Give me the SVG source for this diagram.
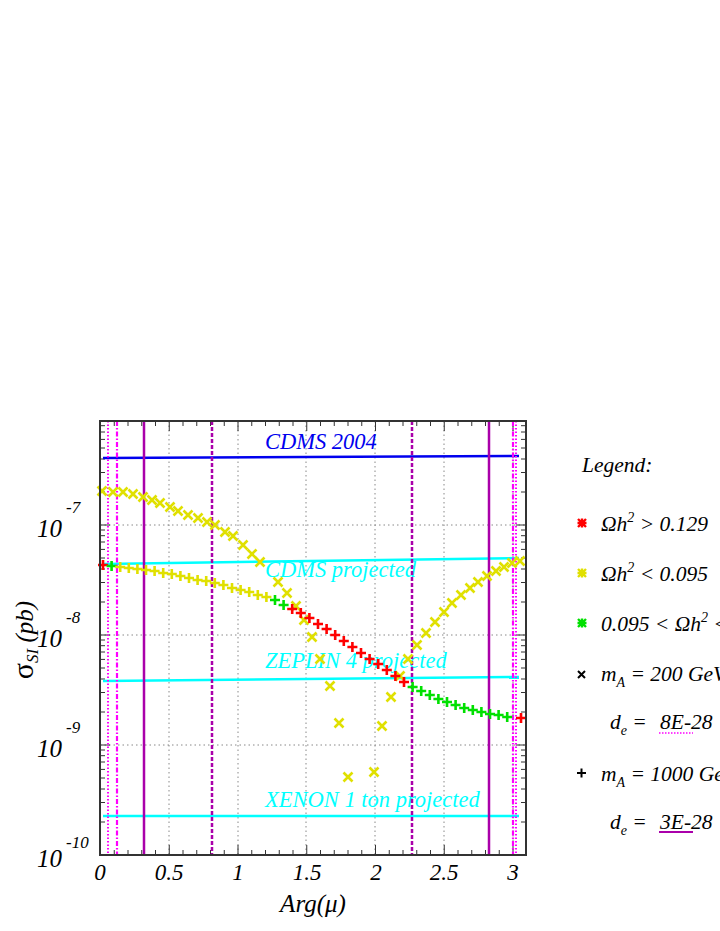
<svg xmlns="http://www.w3.org/2000/svg" xmlns:xlink="http://www.w3.org/1999/xlink" width="720" height="931" viewBox="0 0 720 931">
<style>
.t{font-family:"Liberation Serif",serif;font-style:italic;font-size:22.5px}
.lg{font-family:"Liberation Serif",serif;font-style:italic;font-size:21.5px;fill:#000}
.grid{stroke:#888;stroke-width:1;stroke-dasharray:1.5 3;fill:none}
.tick{stroke:#333;stroke-width:1;fill:none}
.xm{stroke:#e0e000;stroke-width:2.6}
</style>
<defs>
<g id="xm"><path d="M-4.5-4.5L4.5 4.5M-4.5 4.5L4.5-4.5" class="xm"/></g>
<g id="pr"><path d="M-5 0H5M0-5V5" stroke="#ff0000" stroke-width="2.6"/></g>
<g id="pg"><path d="M-5 0H5M0-5V5" stroke="#00e000" stroke-width="2.6"/></g>
<g id="py"><path d="M-5 0H5M0-5V5" stroke="#e0e000" stroke-width="2.6"/></g>
<g id="star"><path d="M-4-4L4 4M-4 4L4-4M-4.5 0H4.5M0-4.5V4.5" stroke-width="2.4"/></g>
</defs>
<rect width="720" height="931" fill="#fff"/>
<g id="plot">
<path class="grid" d="M169 421V855M238 421V855M306 421V855M375 421V855M444 421V855M513 421V855M100 745H526M100 635H526M100 525H526"/>
<path id="lt" class="tick" d="M100 855h10M100 822h5M100 802.5h5M100 789h5M100 778h5M100 769.4h5M100 762h5M100 755.7h5M100 750h5M100 745h10M100 712h5M100 692.5h5M100 679h5M100 668h5M100 659.4h5M100 652h5M100 645.7h5M100 640h5M100 635h10M100 602h5M100 582.5h5M100 569h5M100 558h5M100 549.4h5M100 542h5M100 535.7h5M100 530h5M100 525h10M100 492h5M100 472.5h5M100 459h5M100 448h5M100 439.4h5M100 432h5M100 425.7h5"/>
<use xlink:href="#lt" transform="translate(626,0) scale(-1,1)"/>
<path id="bt" class="tick" d="M100.5 855v-10M114.25 855v-5M128 855v-5M141.75 855v-5M155.5 855v-5M169.25 855v-10M183 855v-5M196.75 855v-5M210.5 855v-5M224.25 855v-5M238 855v-10M251.75 855v-5M265.5 855v-5M279.25 855v-5M293 855v-5M306.75 855v-10M320.5 855v-5M334.25 855v-5M348 855v-5M361.75 855v-5M375.5 855v-10M389.25 855v-5M403 855v-5M416.75 855v-5M430.5 855v-5M444.25 855v-10M458 855v-5M471.75 855v-5M485.5 855v-5M499.25 855v-5M513 855v-10"/>
<use xlink:href="#bt" transform="translate(0,1276) scale(1,-1)"/>
</g>
<g id="limits">
<path d="M103 458L519 456" stroke="#0000ee" stroke-width="2.5" fill="none"/>
<path d="M103 564L519 558" stroke="#00ffff" stroke-width="2.5" fill="none"/>
<path d="M103 681L519 677" stroke="#00ffff" stroke-width="2.5" fill="none"/>
<path d="M103 816L519 816" stroke="#00ffff" stroke-width="2.5" fill="none"/>
<text class="t" x="265" y="449" fill="#0000ee">CDMS 2004</text>
<text class="t" x="265" y="577" fill="#00ffff">CDMS projected</text>
<text class="t" x="265" y="668" fill="#00ffff">ZEPLIN 4 projected</text>
<text class="t" x="265" y="807" fill="#00ffff">XENON 1 ton projected</text>
</g>
<g id="vlines" fill="none">
<path d="M108 421V855M516 421V855" stroke="#ff00ff" stroke-width="2" stroke-dasharray="1.5 2"/>
<path d="M117 421V855M513 421V855" stroke="#ff00ff" stroke-width="2.2" stroke-dasharray="5 2 1.5 2"/>
<path d="M144 421V855M489 421V855" stroke="#aa00aa" stroke-width="2.5"/>
<path d="M212 421V855M412 421V855" stroke="#aa00aa" stroke-width="2.5" stroke-dasharray="4 2"/>
</g>
<g id="mA200">
<use xlink:href="#xm" x="102" y="491"/><use xlink:href="#xm" x="113" y="492"/><use xlink:href="#xm" x="123" y="492"/><use xlink:href="#xm" x="133" y="494"/><use xlink:href="#xm" x="143" y="497"/><use xlink:href="#xm" x="152" y="500"/><use xlink:href="#xm" x="160" y="503"/><use xlink:href="#xm" x="170" y="507"/><use xlink:href="#xm" x="178" y="511"/><use xlink:href="#xm" x="188" y="515"/><use xlink:href="#xm" x="198" y="518"/><use xlink:href="#xm" x="207" y="522"/><use xlink:href="#xm" x="215" y="525"/><use xlink:href="#xm" x="225" y="532"/><use xlink:href="#xm" x="233" y="536"/><use xlink:href="#xm" x="243" y="545"/><use xlink:href="#xm" x="252" y="554"/><use xlink:href="#xm" x="260" y="562"/><use xlink:href="#xm" x="278" y="582"/><use xlink:href="#xm" x="287" y="593"/><use xlink:href="#xm" x="296" y="606"/><use xlink:href="#xm" x="304" y="620"/><use xlink:href="#xm" x="312" y="637"/><use xlink:href="#xm" x="320" y="659"/><use xlink:href="#xm" x="330" y="686"/><use xlink:href="#xm" x="339" y="723"/><use xlink:href="#xm" x="348" y="777"/><use xlink:href="#xm" x="374" y="772"/><use xlink:href="#xm" x="382" y="726"/><use xlink:href="#xm" x="391" y="697"/><use xlink:href="#xm" x="400" y="676"/><use xlink:href="#xm" x="408" y="659"/><use xlink:href="#xm" x="417" y="645"/><use xlink:href="#xm" x="426" y="633"/><use xlink:href="#xm" x="435" y="622"/><use xlink:href="#xm" x="444" y="612"/><use xlink:href="#xm" x="452" y="603"/><use xlink:href="#xm" x="461" y="595"/><use xlink:href="#xm" x="470" y="588"/><use xlink:href="#xm" x="478" y="582"/><use xlink:href="#xm" x="487" y="576"/><use xlink:href="#xm" x="496" y="571"/><use xlink:href="#xm" x="504" y="567"/><use xlink:href="#xm" x="512" y="563"/><use xlink:href="#xm" x="520" y="561"/>
</g>
<g id="mA1000">
<use xlink:href="#pr" x="103" y="565"/><use xlink:href="#pg" x="111.6" y="566"/><use xlink:href="#py" x="120.2" y="567"/><use xlink:href="#py" x="128.8" y="568"/><use xlink:href="#py" x="137.4" y="569"/><use xlink:href="#py" x="146" y="570"/><use xlink:href="#py" x="154.6" y="571"/><use xlink:href="#py" x="163.2" y="573"/><use xlink:href="#py" x="171.8" y="574"/><use xlink:href="#py" x="180.4" y="576"/><use xlink:href="#py" x="189" y="578"/><use xlink:href="#py" x="197.6" y="580"/><use xlink:href="#py" x="206.2" y="581"/><use xlink:href="#py" x="214.8" y="583"/><use xlink:href="#py" x="223.4" y="585"/><use xlink:href="#py" x="232" y="588"/><use xlink:href="#py" x="240.6" y="590"/><use xlink:href="#py" x="249.2" y="592"/><use xlink:href="#py" x="257.8" y="595"/><use xlink:href="#py" x="266.4" y="597"/><use xlink:href="#pg" x="275" y="600"/><use xlink:href="#pg" x="283.6" y="605"/><use xlink:href="#pr" x="292.2" y="609"/><use xlink:href="#pr" x="300.8" y="613"/><use xlink:href="#pr" x="309.4" y="618"/><use xlink:href="#pr" x="318" y="624"/><use xlink:href="#pr" x="326.6" y="629"/><use xlink:href="#pr" x="335.2" y="635"/><use xlink:href="#pr" x="343.8" y="641"/><use xlink:href="#pr" x="352.4" y="647"/><use xlink:href="#pr" x="361" y="653"/><use xlink:href="#pr" x="369.6" y="659"/><use xlink:href="#pr" x="378.2" y="664"/><use xlink:href="#pr" x="386.8" y="670"/><use xlink:href="#pr" x="395.4" y="676"/><use xlink:href="#pr" x="404" y="682"/><use xlink:href="#pg" x="412.6" y="687"/><use xlink:href="#pg" x="421.2" y="691"/><use xlink:href="#pg" x="429.8" y="695"/><use xlink:href="#pg" x="438.4" y="699"/><use xlink:href="#pg" x="447" y="702"/><use xlink:href="#pg" x="455.6" y="705"/><use xlink:href="#pg" x="464.2" y="708"/><use xlink:href="#pg" x="472.8" y="710"/><use xlink:href="#pg" x="481.4" y="712"/><use xlink:href="#pg" x="490" y="714"/><use xlink:href="#pg" x="498.6" y="715"/><use xlink:href="#pg" x="507.2" y="717"/><use xlink:href="#pr" x="521" y="718"/>
</g>
<rect x="100" y="421" width="426" height="434" fill="none" stroke="#333" stroke-width="2"/>
<g id="axes">
<text x="37" y="537" class="lg" style="font-size:25px">10</text><text x="66" y="513" class="lg" style="font-size:17px">-7</text>
<text x="37" y="647" class="lg" style="font-size:25px">10</text><text x="66" y="623" class="lg" style="font-size:17px">-8</text>
<text x="37" y="757" class="lg" style="font-size:25px">10</text><text x="66" y="733" class="lg" style="font-size:17px">-9</text>
<text x="37" y="867" class="lg" style="font-size:25px">10</text><text x="66" y="848" class="lg" style="font-size:17px">-10</text>
<g class="lg" style="font-size:23px" text-anchor="middle">
<text x="100" y="880">0</text><text x="169" y="880">0.5</text><text x="238" y="880">1</text><text x="307" y="880">1.5</text><text x="376" y="880">2</text><text x="444" y="880">2.5</text><text x="513" y="880">3</text>
</g>
<text x="313" y="912" text-anchor="middle" class="lg" style="font-size:25px">Arg(μ)</text>
<text transform="translate(33,640) rotate(-90)" text-anchor="middle" class="lg" style="font-size:25px"><tspan font-style="normal" font-size="30">σ</tspan><tspan font-size="17" dy="5">SI</tspan><tspan dy="-5"> (pb)</tspan></text>
</g>
<g id="legend">
<text class="lg" x="582" y="472">Legend:</text>
<use xlink:href="#star" x="582" y="523" stroke="#ff0000"/>
<use xlink:href="#star" x="582" y="573" stroke="#e0e000"/>
<use xlink:href="#star" x="582" y="623" stroke="#00e000"/>
<path d="M578 671l7 7M578 678l7-7" stroke="#000" stroke-width="2"/>
<path d="M577 773h9M581.5 768.5v9" stroke="#000" stroke-width="2"/>
<text class="lg" x="601" y="531">Ωh<tspan font-size="14" dy="-9">2</tspan><tspan dy="9"> &gt; 0.129</tspan></text>
<text class="lg" x="601" y="581">Ωh<tspan font-size="14" dy="-9">2</tspan><tspan dy="9"> &lt; 0.095</tspan></text>
<text class="lg" x="601" y="631">0.095 &lt; Ωh<tspan font-size="14" dy="-9">2</tspan><tspan dy="9"> &lt; 0.129</tspan></text>
<text class="lg" x="601" y="681">m<tspan font-size="14" dy="6">A</tspan><tspan dy="-6"> = 200 GeV</tspan></text>
<text class="lg" x="610" y="729">d<tspan font-size="14" dy="6">e</tspan><tspan dy="-6"> =</tspan></text>
<text class="lg" x="660" y="729">8E-28</text>
<path d="M659 733H693" stroke="#ff00ff" stroke-width="1.5" stroke-dasharray="1.5 1.5"/>
<text class="lg" x="601" y="781">m<tspan font-size="14" dy="6">A</tspan><tspan dy="-6"> = 1000 GeV</tspan></text>
<text class="lg" x="610" y="829">d<tspan font-size="14" dy="6">e</tspan><tspan dy="-6"> =</tspan></text>
<text class="lg" x="660" y="829">3E-28</text>
<path d="M659 832H693" stroke="#aa00aa" stroke-width="1.8"/>
</g>
</svg>
